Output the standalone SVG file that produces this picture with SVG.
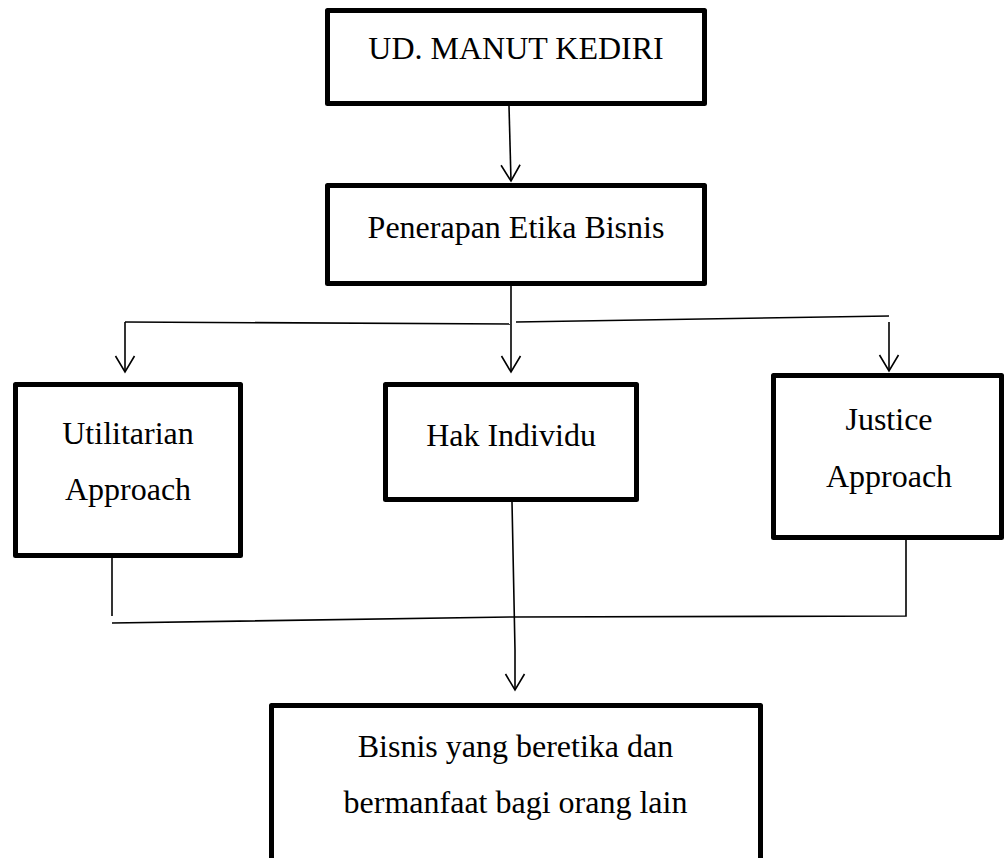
<svg xmlns="http://www.w3.org/2000/svg" width="1005" height="858" viewBox="0 0 1005 858">
<style>
.box{fill:#fff;stroke:#000;stroke-width:5;stroke-linejoin:round}
.lbl{font-family:"Liberation Serif","Times New Roman",serif;font-size:32px;fill:#000;text-anchor:middle}
.con{fill:none;stroke:#000;stroke-width:1.6}
</style>
<defs>
<marker id="arr" viewBox="-18 -12 20 24" markerWidth="20" markerHeight="24" refX="0" refY="0" orient="auto" markerUnits="userSpaceOnUse">
<path d="M-16,-9.5 L0,0 L-16,9.5" fill="none" stroke="#000" stroke-width="1.6"/>
</marker>
</defs>
<rect width="1005" height="858" fill="#fff"/>
<g id="connectors">
<line class="con" x1="509" y1="106" x2="511" y2="181" marker-end="url(#arr)"/>
<line class="con" x1="511" y1="286" x2="511" y2="372" marker-end="url(#arr)"/>
<polyline class="con" points="125,322 510,324"/>
<line class="con" x1="125" y1="322" x2="125" y2="372" marker-end="url(#arr)"/>
<line class="con" x1="516" y1="322" x2="889" y2="316"/>
<line class="con" x1="889" y1="322" x2="889" y2="371" marker-end="url(#arr)"/>
<line class="con" x1="112" y1="558" x2="112" y2="616"/>
<polyline class="con" points="112,623 513,617 906,616 906,540"/>
<polyline class="con" points="512,502 515,650 515,690" marker-end="url(#arr)"/>
</g>
<g id="node-ud">
<rect class="box" x="327.5" y="10.5" width="377" height="93"/>
<text class="lbl" x="516" y="59">UD. MANUT KEDIRI</text>
</g>
<g id="node-penerapan">
<rect class="box" x="327.5" y="185.5" width="377" height="98"/>
<text class="lbl" x="516" y="238">Penerapan Etika Bisnis</text>
</g>
<g id="node-utilitarian">
<rect class="box" x="15.5" y="384.5" width="225" height="171"/>
<text class="lbl" x="128" y="444">Utilitarian</text>
<text class="lbl" x="128" y="500">Approach</text>
</g>
<g id="node-hak">
<rect class="box" x="385.5" y="384.5" width="251" height="115"/>
<text class="lbl" x="511" y="446">Hak Individu</text>
</g>
<g id="node-justice">
<rect class="box" x="773.5" y="375.5" width="228" height="162"/>
<text class="lbl" x="889" y="430">Justice</text>
<text class="lbl" x="889" y="487">Approach</text>
</g>
<g id="node-bisnis">
<rect class="box" x="271.5" y="705.5" width="489" height="170"/>
<text class="lbl" x="515.5" y="757">Bisnis yang beretika dan</text>
<text class="lbl" x="515.5" y="813">bermanfaat bagi orang lain</text>
</g>
</svg>
